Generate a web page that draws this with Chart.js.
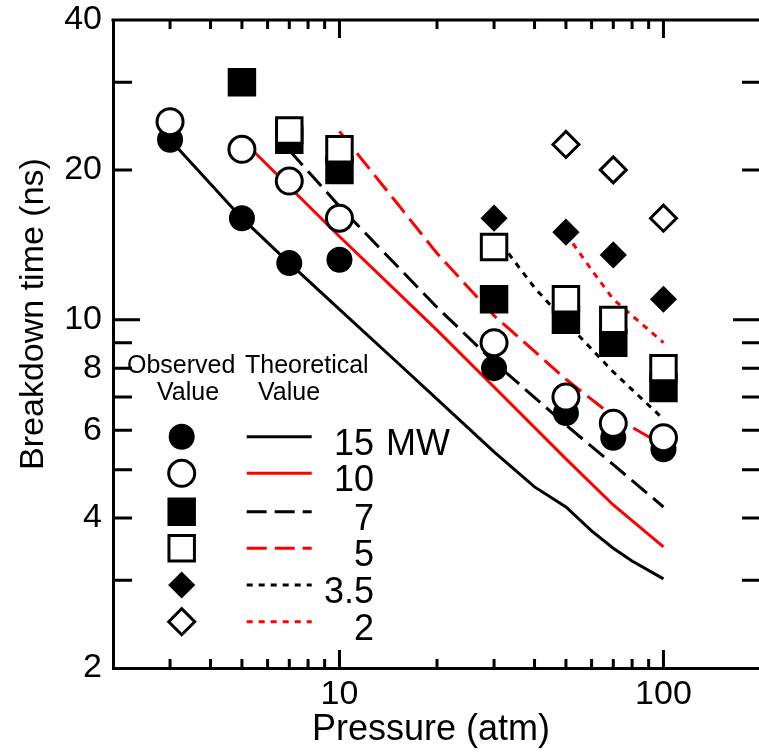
<!DOCTYPE html>
<html>
<head>
<meta charset="utf-8">
<title>Breakdown time vs pressure</title>
<script src="https://cdn.jsdelivr.net/npm/chart.js@4.4.1/dist/chart.umd.min.js"></script>
<style>
  html, body { margin: 0; padding: 0; background: #fff; overflow: hidden; }
  #wrap { position: relative; width: 761px; height: 755px; }
</style>
</head>
<body>
<div id="wrap"><canvas id="chart"></canvas></div>
<script>
// Observed breakdown times (ns) vs pressure (atm)
const obsP15 = [3, 5, 7, 10, 30, 50, 70, 100];
const obs15 = [23.0, 16.0, 13.0, 13.2, 8.0, 6.5, 5.8, 5.5];
const obsP10 = [3, 5, 7, 10, 30, 50, 70, 100];
const obs10 = [25, 22, 19, 16, 9.0, 7.0, 6.2, 5.8];
const obsP7 = [5, 7, 10, 30, 50, 70, 100];
const obs7 = [30, 23, 20, 11, 10, 9.0, 7.3];
const obsP5 = [7, 10, 30, 50, 70, 100];
const obs5 = [24, 22, 14, 11, 10, 8.0];
const obsP35 = [30, 50, 70, 100];
const obs35 = [16, 15, 13.5, 11];
const obsP2 = [50, 70, 100];
const obs2 = [22.5, 20, 16];

// Theoretical curves
const thP15 = [3, 5, 7, 10, 15, 20, 30, 40, 50, 60, 70, 80, 100];
const th15 = [23.0, 16.0, 13.0, 10.5, 8.24, 6.93, 5.43, 4.62, 4.21, 3.77, 3.48, 3.28, 3.02];
const thP10 = [5, 7, 10, 20, 30, 50, 70, 100];
const th10 = [23.0, 18.5, 14.7, 9.54, 7.33, 5.26, 4.25, 3.50];
const thP7 = [7, 10, 20, 30, 50, 70, 100];
const th7 = [21.9, 16.9, 10.6, 8.23, 6.15, 5.12, 4.21];
const thP5 = [10, 15, 20, 30, 50, 70, 100];
const th5 = [23.9, 17.2, 13.6, 10.2, 7.6, 6.4, 5.6];
const thP35 = [30, 40, 50, 70, 100];
const th35 = [14.85, 11.6, 9.9, 7.86, 6.32];
const thP2 = [50, 60, 70, 80, 100];
const th2 = [14.9, 12.6, 11.0, 10.2, 9.0];

const powerLabels = ["15", "10", "7", "5", "3.5", "2"];

// Axis ticks
const xTickLabels = [10, 100];
const xMinorTicks = [3, 4, 5, 6, 7, 8, 9, 20, 30, 40, 50, 60, 70, 80, 90];
const xMajorTicks = [10, 100];
const yTickLabels = [2, 4, 6, 8, 10, 20, 40];
const yMinorTicks = [3, 4, 5, 6, 7, 8, 9, 20, 30];
const yMajorTicks = [10];

const FONT = '"Liberation Sans", Arial, Helvetica, sans-serif';
const RED = "#ff0000";

const pts = (xs, ys) => xs.map((x, i) => ({ x: x, y: ys[i] }));

// marker styles, in legend order (15, 10, 7, 5, 3.5, 2)
const markers = [
  { style: "circle", radius: 11.5, filled: true },
  { style: "circle", radius: 13, filled: false },
  { style: "rect", radius: 18, filled: true },
  { style: "rect", radius: 18, filled: false },
  { style: "rectRot", radius: 11.5, filled: true },
  { style: "rectRot", radius: 13, filled: false }
];
const lineStyles = [
  { color: "#000", dash: [] },
  { color: RED, dash: [] },
  { color: "#000", dash: [20, 8] },
  { color: RED, dash: [20, 8] },
  { color: "#000", dash: [6, 6] },
  { color: RED, dash: [6, 6] }
];

function markerSet(label, data, m) {
  return {
    label: label,
    data: data,
    showLine: false,
    pointStyle: m.style,
    pointRadius: m.radius,
    pointBorderWidth: 3,
    pointBorderColor: "#000",
    pointBackgroundColor: m.filled ? "#000" : "#fff"
  };
}

function lineSet(label, data, s) {
  return {
    label: label,
    data: data,
    showLine: true,
    pointRadius: 0,
    borderColor: s.color,
    borderWidth: 3,
    borderDash: s.dash,
    borderCapStyle: "butt",
    tension: 0
  };
}

function drawMarker(ctx, m, x, y) {
  const r = m.radius;
  ctx.beginPath();
  if (m.style === "circle") {
    ctx.arc(x, y, r, 0, Math.PI * 2);
  } else if (m.style === "rect") {
    const s = r * Math.SQRT1_2;
    ctx.rect(x - s, y - s, 2 * s, 2 * s);
  } else {
    ctx.moveTo(x - r, y);
    ctx.lineTo(x, y - r);
    ctx.lineTo(x + r, y);
    ctx.lineTo(x, y + r);
    ctx.closePath();
  }
  ctx.fillStyle = m.filled ? "#000" : "#fff";
  ctx.fill();
  ctx.lineWidth = 3;
  ctx.strokeStyle = "#000";
  ctx.stroke();
}

// frame, inward ticks, axis titles and the two-column legend
const framePlugin = {
  id: "framePlugin",
  afterDraw(chart) {
    const ctx = chart.ctx;
    const { left, right, top, bottom } = chart.chartArea;
    const xs = chart.scales.x;
    const ys = chart.scales.y;

    ctx.save();
    ctx.strokeStyle = "#000";
    ctx.lineWidth = 3;
    ctx.lineCap = "butt";
    ctx.setLineDash([]);
    ctx.beginPath();
    ctx.moveTo(left - 1.5, top);
    ctx.lineTo(right, top);
    ctx.lineTo(right, bottom);

    xMinorTicks.forEach((v) => {
      const px = xs.getPixelForValue(v);
      ctx.moveTo(px, bottom); ctx.lineTo(px, bottom - 9);
      ctx.moveTo(px, top); ctx.lineTo(px, top + 9);
    });
    xMajorTicks.forEach((v) => {
      const px = xs.getPixelForValue(v);
      ctx.moveTo(px, bottom); ctx.lineTo(px, bottom - 18);
      ctx.moveTo(px, top); ctx.lineTo(px, top + 18);
    });
    yMinorTicks.forEach((v) => {
      const py = ys.getPixelForValue(v);
      ctx.moveTo(left, py); ctx.lineTo(left + 19, py);
      ctx.moveTo(right, py); ctx.lineTo(right - 19, py);
    });
    yMajorTicks.forEach((v) => {
      const py = ys.getPixelForValue(v);
      ctx.moveTo(left, py); ctx.lineTo(left + 27, py);
      ctx.moveTo(right, py); ctx.lineTo(right - 28, py);
    });
    ctx.stroke();

    // axis titles
    ctx.fillStyle = "#000";
    ctx.textAlign = "center";
    ctx.textBaseline = "alphabetic";
    ctx.font = "36px " + FONT;
    ctx.fillText("Pressure (atm)", 431, 740);
    ctx.save();
    ctx.translate(43, 314);
    ctx.rotate(-Math.PI / 2);
    ctx.font = "34px " + FONT;
    ctx.fillText("Breakdown time (ns)", 0, 0);
    ctx.restore();

    // legend headers
    ctx.font = "25px " + FONT;
    ctx.textAlign = "left";
    ctx.fillText("Observed", 127, 373);
    ctx.fillText("Theoretical", 245, 373);
    ctx.fillText("Value", 157, 400);
    ctx.fillText("Value", 258, 400);

    const rowY = [436.7, 473.3, 511.7, 548.3, 585, 621.7];
    ctx.font = "36px " + FONT;
    rowY.forEach((yy, i) => {
      drawMarker(ctx, markers[i], 181.7, yy);
      ctx.beginPath();
      ctx.strokeStyle = lineStyles[i].color;
      ctx.lineWidth = 3;
      ctx.setLineDash(lineStyles[i].dash);
      ctx.moveTo(246.7, yy);
      ctx.lineTo(311.7, yy);
      ctx.stroke();
      ctx.setLineDash([]);
      ctx.fillStyle = "#000";
      ctx.textAlign = "right";
      ctx.fillText(powerLabels[i], 374, yy + 18);
    });
    ctx.textAlign = "left";
    ctx.fillText("MW", 386, rowY[0] + 18);
    ctx.restore();
  }
};

Chart.defaults.font.family = FONT;
Chart.defaults.color = "#000";

new Chart(document.getElementById("chart"), {
  type: "scatter",
  data: {
    datasets: [
      markerSet("2 MW obs", pts(obsP2, obs2), markers[5]),
      markerSet("3.5 MW obs", pts(obsP35, obs35), markers[4]),
      markerSet("5 MW obs", pts(obsP5, obs5), markers[3]),
      markerSet("7 MW obs", pts(obsP7, obs7), markers[2]),
      markerSet("10 MW obs", pts(obsP10, obs10), markers[1]),
      markerSet("15 MW obs", pts(obsP15, obs15), markers[0]),
      lineSet("15 MW", pts(thP15, th15), lineStyles[0]),
      lineSet("10 MW", pts(thP10, th10), lineStyles[1]),
      lineSet("7 MW", pts(thP7, th7), lineStyles[2]),
      lineSet("5 MW", pts(thP5, th5), lineStyles[3]),
      lineSet("3.5 MW", pts(thP35, th35), lineStyles[4]),
      lineSet("2 MW", pts(thP2, th2), lineStyles[5])
    ]
  },
  options: {
    responsive: true,
    maintainAspectRatio: false,
    animation: false,
    events: [],
    layout: { autoPadding: false, padding: { top: 20, left: 0, right: 0, bottom: 0 } },
    plugins: {
      legend: { display: false },
      tooltip: { enabled: false }
    },
    scales: {
      x: {
        type: "logarithmic",
        min: 2,
        max: 200,
        grid: { display: false, drawTicks: false },
        border: { display: true, color: "#000", width: 3 },
        ticks: {
          font: { size: 34 },
          color: "#000",
          padding: 6,
          autoSkip: false,
          maxRotation: 0,
          callback: (v) => String(v)
        },
        afterBuildTicks: (s) => { s.ticks = xTickLabels.map((v) => ({ value: v })); },
        afterFit: (s) => {
          s.height = 87;
          s.paddingLeft = 0;
          s.paddingRight = 0;
        }
      },
      y: {
        type: "logarithmic",
        min: 2,
        max: 40,
        grid: { display: false, drawTicks: false },
        border: { display: true, color: "#000", width: 3 },
        ticks: {
          font: { size: 34 },
          color: "#000",
          padding: 11,
          autoSkip: false,
          callback: (v) => String(v)
        },
        afterBuildTicks: (s) => { s.ticks = yTickLabels.map((v) => ({ value: v })); },
        afterFit: (s) => {
          s.width = 113;
          s.paddingTop = 0;
          s.paddingBottom = 0;
        }
      }
    }
  },
  plugins: [framePlugin]
});
</script>
</body>
</html>
